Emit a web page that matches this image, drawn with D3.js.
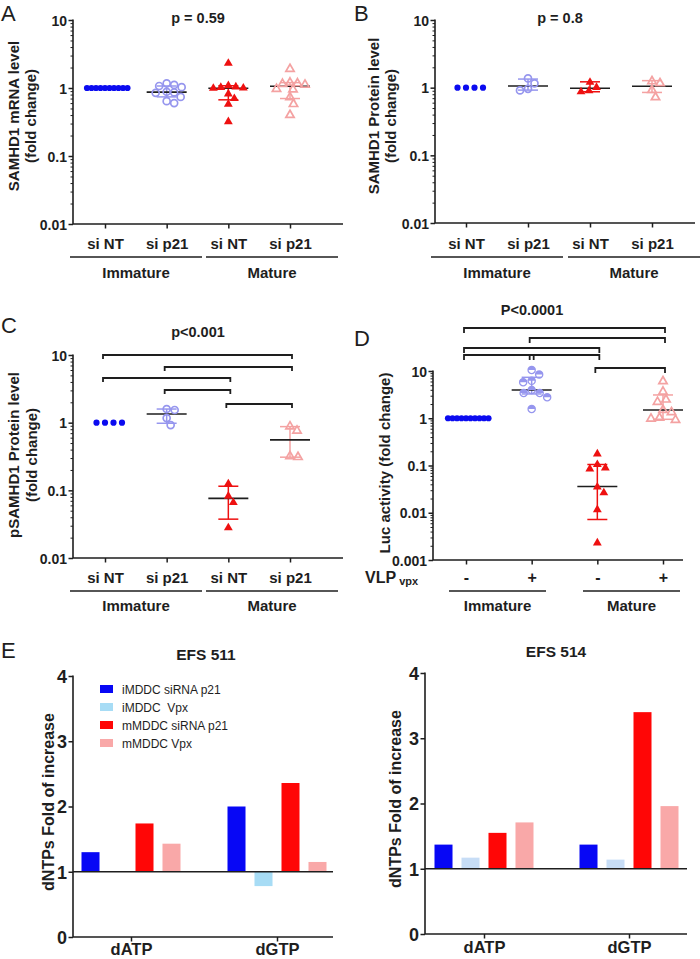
<!DOCTYPE html>
<html><head><meta charset="utf-8">
<script src="https://cdn.jsdelivr.net/npm/d3@7"></script>
<style>
body{margin:0;background:#fff}
svg{display:block}
text{font-family:"Liberation Sans",Arial,sans-serif}
</style>
</head><body>
<svg id="c" width="700" height="959"></svg>
<script>
// ---------------- DATA ----------------
const siCats = ["si NT", "si p21", "si NT", "si p21"];
const vlpCats = ["-", "+", "-", "+"];
const groupLabels = ["Immature", "Mature"];
const logTickA = [0.01, 0.1, 1, 10];
const logTickD = [0.001, 0.01, 0.1, 1, 10];

// Panel A: SAMHD1 mRNA level
const aImmNT = [1, 1, 1, 1, 1, 1, 1, 1, 1, 1];
const aImmP21 = [1.17, 1.11, 1.07, 1.03, 0.88, 0.86, 0.85, 0.74, 0.64, 0.60];
const aMatNT = [2.31, 1.08, 1.04, 1.02, 1.0, 0.99, 0.82, 0.70, 0.58, 0.32];
const aMatP21 = [1.90, 1.20, 1.17, 1.15, 1.12, 0.97, 0.95, 0.73, 0.58, 0.40];
const aCenter = [1, 0.87, 0.99, 1.06];
const aLow = [1, 0.74, 0.67, 0.70];
const aHigh = [1, 1.07, 1.08, 1.20];

// Panel B: SAMHD1 protein level
const bImmNT = [1, 1, 1, 1];
const bImmP21 = [1.37, 1.16, 0.96, 0.91];
const bMatNT = [1.20, 1.01, 0.90, 0.87];
const bMatP21 = [1.24, 1.16, 0.92, 0.72];
const bCenter = [1, 1.06, 0.98, 1.05];
const bLow = [1, 0.92, 0.87, 0.85];
const bHigh = [1, 1.34, 1.22, 1.27];

// Panel C: pSAMHD1 protein level
const cImmNT = [1, 1, 1, 1];
const cImmP21 = [1.59, 1.54, 1.17, 0.92];
const cMatNT = [0.125, 0.082, 0.066, 0.028];
const cMatP21 = [0.88, 0.76, 0.32, 0.31];
const cCenter = [1, 1.34, 0.076, 0.556];
const cLow = [1, 0.98, 0.0375, 0.309];
const cHigh = [1, 1.59, 0.115, 0.874];
const cPairs = [[0, 3], [1, 3], [0, 2], [1, 2], [2, 3]];

// Panel D: Luc activity
const dImmMinus = [1, 1, 1, 1, 1, 1, 1, 1, 1, 1];
const dImmPlus = [10.5, 8.4, 6.2, 5.8, 3.97, 3.43, 3.43, 2.78, 1.57];
const dMatMinus = [0.176, 0.105, 0.089, 0.085, 0.035, 0.0265, 0.0116, 0.0023];
const dMatPlus = [6.05, 3.66, 2.48, 2.21, 1.50, 1.34, 1.02, 0.98, 0.92];
const dCenter = [1, 3.97, 0.036, 1.5];
const dLow = [1, 3.27, 0.0072, 0.95];
const dHigh = [1, 7.35, 0.105, 3.11];
const dPairs = [[0, 3], [1, 3], [0, 2], [0, 1], [1, 2], [2, 3]];

// Panel E: dNTP fold of increase
const ntpCats = ["dATP", "dGTP"];
const legendLabels = ["iMDDC siRNA p21", "iMDDC  Vpx", "mMDDC siRNA p21", "mMDDC Vpx"];
const linTicks = [0, 1, 2, 3, 4];
const efs511_dATP = [1.30, 1.00, 1.74, 1.43];
const efs511_dGTP = [2.00, 0.78, 2.36, 1.15];
const efs514_dATP = [1.37, 1.17, 1.55, 1.71];
const efs514_dGTP = [1.37, 1.14, 3.40, 1.96];

// ---------------- STYLE ----------------
const INK = "#1e1e1e";
const BLUE = "#0b0bf0", PURPLE = "#9696ee", RED = "#ee1010", PINK = "#f4a2a2";
const barColors511 = ["#0707f5", "#a7dcf5", "#ff0606", "#f9a8a8"];
const barColors514 = ["#0707f5", "#c7ddf6", "#ff0606", "#f9a8a8"];
const LETTER_FONT = "'Liberation Sans', Arial, sans-serif";

const svg = d3.select("#c");

function drawMarker(sel, type, color) {
  if (type === "dot") {
    sel.append("circle").attr("r", 3.1).attr("fill", color);
  } else if (type === "circle") {
    sel.append("circle").attr("r", 3.5).attr("fill", "none").attr("stroke", color).attr("stroke-width", 1.7);
  } else if (type === "half") {
    sel.append("path").attr("d", "M-3.6,0A3.6,3.6 0 0 1 3.6,0Z").attr("fill", color);
    sel.append("circle").attr("r", 3.6).attr("fill", "none").attr("stroke", color).attr("stroke-width", 1.3);
  } else if (type === "tri") {
    sel.append("path").attr("d", d3.symbol().type(d3.symbolTriangle).size(34)()).attr("fill", color);
  } else if (type === "triOpen") {
    sel.append("path").attr("d", d3.symbol().type(d3.symbolTriangle).size(30)()).attr("fill", "none").attr("stroke", color).attr("stroke-width", 1.7);
  }
}

function swarm(vals, y, d) {
  const placed = [];
  return vals.map(v => {
    const py = y(v);
    for (let k = 0; k < 600; k++) {
      const off = (k % 2 === 1 ? 1 : -1) * Math.ceil(k / 2) * 0.5;
      if (placed.every(q => Math.hypot(q.off - off, q.y - py) >= d)) {
        const p = {v, y: py, off};
        placed.push(p);
        return p;
      }
    }
    return {v, y: py, off: 0};
  });
}

function scatterPanel(p) {
  const g = svg.append("g");
  const y = d3.scaleLog().domain([p.ticks[0], p.ticks[p.ticks.length - 1]]).range([p.yBot, p.yTop]);
  const x = d3.scalePoint().domain(d3.range(p.cats.length)).range(p.catRange);

  // minor log ticks
  const minors = [];
  p.ticks.slice(0, -1).forEach(t => { for (let m = 2; m < 10; m++) minors.push(t * m); });
  g.append("g").attr("transform", `translate(${p.axisX},0)`)
    .call(d3.axisLeft(y).tickValues(minors).tickSize(2.5).tickFormat(""))
    .call(s => { s.select(".domain").remove(); s.selectAll("line").attr("stroke", INK).attr("stroke-width", 1); });
  g.append("g").attr("transform", `translate(${p.axisX},0)`)
    .call(d3.axisLeft(y).tickValues(p.ticks).tickSize(4.5).tickPadding(1.5).tickFormat(d => String(d)))
    .call(s => {
      s.select(".domain").remove();
      s.selectAll("line").attr("stroke", INK).attr("stroke-width", 1.5);
      s.selectAll("text").attr("fill", INK).style("font-size", "14px").style("font-weight", "bold").attr("dy", "0.36em");
    });
  // x ticks + category labels
  g.append("g").attr("transform", `translate(0,${p.yBot})`)
    .call(d3.axisBottom(x).tickSize(4.5).tickFormat(i => p.cats[i]))
    .call(s => {
      s.select(".domain").remove();
      s.selectAll("line").attr("stroke", INK).attr("stroke-width", 1.5);
      s.selectAll("text").attr("fill", INK).style("font-size", p.catFont || "15px").style("font-weight", "bold")
        .attr("y", p.catLabelY - p.yBot).attr("dy", 0);
    });
  // axis lines
  g.append("path").attr("d", `M${p.axisX},${p.yTop - 0.5}V${p.yBot}H${p.axisEnd}`)
    .attr("fill", "none").attr("stroke", INK).attr("stroke-width", 1.6);

  // group underlines and labels
  p.groupLines.forEach((gl, i) => {
    g.append("line").attr("x1", gl[0]).attr("x2", gl[1]).attr("y1", p.groupLineY).attr("y2", p.groupLineY)
      .attr("stroke", INK).attr("stroke-width", 1.6);
    g.append("text").attr("x", (gl[0] + gl[1]) / 2).attr("y", p.groupLabelY).attr("text-anchor", "middle")
      .style("font-size", "15px").style("font-weight", "bold").attr("fill", INK).text(groupLabels[i]);
  });

  // error bars & central line (under markers)
  p.series.forEach((s, i) => {
    const cx = x(i);
    if (p.low[i] !== p.high[i]) {
      g.append("line").attr("x1", cx).attr("x2", cx).attr("y1", y(p.low[i])).attr("y2", y(p.high[i]))
        .attr("stroke", s.color).attr("stroke-width", 1.5);
      [p.low[i], p.high[i]].forEach(v => {
        g.append("line").attr("x1", cx - 10).attr("x2", cx + 10).attr("y1", y(v)).attr("y2", y(v))
          .attr("stroke", s.color).attr("stroke-width", 1.5);
      });
      g.append("line").attr("x1", cx - 20).attr("x2", cx + 20).attr("y1", y(p.center[i])).attr("y2", y(p.center[i]))
        .attr("stroke", INK).attr("stroke-width", 1.6);
    }
  });
  // markers
  p.series.forEach((s, i) => {
    const pts = swarm(s.vals, y, s.d);
    pts.forEach(pt => {
      const m = g.append("g").attr("transform", `translate(${x(i) + pt.off},${pt.y})`);
      drawMarker(m, s.type, s.color);
    });
  });

  // brackets
  if (p.pairs) {
    p.pairs.forEach((pr, k) => {
      const by = p.bracketY[k];
      const x0 = x(pr[0]) - 2, x1 = x(pr[1]) + 2;
      g.append("path").attr("d", `M${x0},${by + p.leg}V${by}H${x1}V${by + p.leg}`)
        .attr("fill", "none").attr("stroke", INK).attr("stroke-width", 1.8);
    });
  }

  // p-value
  g.append("text").attr("x", p.pX).attr("y", p.pY).attr("text-anchor", "middle")
    .style("font-size", "14.5px").style("font-weight", "bold").attr("fill", INK).text(p.pText);

  // y-axis title
  p.yLabel.forEach((line, k) => {
    g.append("text").attr("transform", `translate(${p.yLabelX[k]},${p.yLabelCY}) rotate(-90)`)
      .attr("text-anchor", "middle").style("font-size", "15px").style("font-weight", "bold").attr("fill", INK).text(line);
  });

  // panel letter
  g.append("text").attr("x", p.letterX).attr("y", p.letterY)
    .style("font-family", LETTER_FONT).style("font-size", "22px").attr("fill", INK).text(p.letter);
  return {g, x, y};
}

// Panel A
scatterPanel({
  letter: "A", letterX: 1, letterY: 21,
  ticks: logTickA, axisX: 73, yTop: 20, yBot: 224, axisEnd: 343, catRange: [105, 290], cats: siCats,
  catLabelY: 249, groupLineY: 257, groupLines: [[70, 202], [206, 338]], groupLabelY: 278,
  series: [
    {vals: aImmNT, type: "dot", color: BLUE, d: 4.3},
    {vals: aImmP21, type: "circle", color: PURPLE, d: 7.5},
    {vals: aMatNT, type: "tri", color: RED, d: 7.5},
    {vals: aMatP21, type: "triOpen", color: PINK, d: 7.5}
  ],
  center: aCenter, low: aLow, high: aHigh,
  pText: "p = 0.59", pX: 198, pY: 23,
  yLabel: ["SAMHD1 mRNA level", "(fold change)"], yLabelX: [19, 36], yLabelCY: 116
});

// Panel B
scatterPanel({
  letter: "B", letterX: 354, letterY: 21,
  ticks: logTickA, axisX: 435, yTop: 20, yBot: 223, axisEnd: 695, catRange: [466, 652], cats: siCats,
  catLabelY: 249, groupLineY: 257, groupLines: [[431, 563], [568, 700]], groupLabelY: 278,
  series: [
    {vals: bImmNT, type: "dot", color: BLUE, d: 8.5},
    {vals: bImmP21, type: "circle", color: PURPLE, d: 8},
    {vals: bMatNT, type: "tri", color: RED, d: 8},
    {vals: bMatP21, type: "triOpen", color: PINK, d: 8}
  ],
  center: bCenter, low: bLow, high: bHigh,
  pText: "p = 0.8", pX: 560, pY: 23,
  yLabel: ["SAMHD1 Protein level", "(fold change)"], yLabelX: [379, 396], yLabelCY: 116
});

// Panel C
scatterPanel({
  letter: "C", letterX: 1, letterY: 333,
  ticks: logTickA, axisX: 73, yTop: 355, yBot: 558, axisEnd: 343, catRange: [105, 290], cats: siCats,
  catLabelY: 583, groupLineY: 591, groupLines: [[70, 202], [206, 338]], groupLabelY: 611,
  series: [
    {vals: cImmNT, type: "dot", color: BLUE, d: 8.5},
    {vals: cImmP21, type: "circle", color: PURPLE, d: 8},
    {vals: cMatNT, type: "tri", color: RED, d: 8},
    {vals: cMatP21, type: "triOpen", color: PINK, d: 8}
  ],
  center: cCenter, low: cLow, high: cHigh,
  pairs: cPairs, bracketY: [355, 367, 378, 390, 404], leg: 4,
  pText: "p<0.001", pX: 198, pY: 337,
  yLabel: ["pSAMHD1 Protein level", "(fold change)"], yLabelX: [19, 37], yLabelCY: 455
});

// Panel D
scatterPanel({
  letter: "D", letterX: 354, letterY: 346,
  ticks: logTickD, axisX: 433, yTop: 371, yBot: 560, axisEnd: 683, catRange: [466, 663], cats: vlpCats,
  catFont: "16px",
  catLabelY: 583, groupLineY: 591, groupLines: [[449, 546], [583, 680]], groupLabelY: 611,
  series: [
    {vals: dImmMinus, type: "dot", color: BLUE, d: 4.3},
    {vals: dImmPlus, type: "half", color: PURPLE, d: 8.5},
    {vals: dMatMinus, type: "tri", color: RED, d: 8.5},
    {vals: dMatPlus, type: "triOpen", color: PINK, d: 8.5}
  ],
  center: dCenter, low: dLow, high: dHigh,
  pairs: dPairs, bracketY: [328, 338, 348, 355, 355, 368], leg: 5,
  pText: "P<0.0001", pX: 532, pY: 315,
  yLabel: ["Luc activity (fold change)"], yLabelX: [390], yLabelCY: 463
});
// VLP vpx row label
const vlp = svg.append("text").attr("x", 365).attr("y", 583).attr("fill", INK)
  .style("font-size", "16px").style("font-weight", "bold");
vlp.append("tspan").text("VLP");
vlp.append("tspan").attr("dx", 3).attr("dy", 2).style("font-size", "11px").text("vpx");

// Panel E (bars)
function barPanel(p) {
  const g = svg.append("g");
  const y = d3.scaleLinear().domain([0, 4]).range([p.yBot, p.yTop]);
  const x0 = d3.scalePoint().domain(ntpCats).range(p.catRange);
  const x1 = d3.scaleBand().domain(d3.range(4)).range([-49.5, 49.5]).paddingInner(0.333);

  [p.dATP, p.dGTP].forEach((vals, ci) => {
    vals.forEach((v, si) => {
      const bx = x0(ntpCats[ci]) + x1(si);
      g.append("rect").attr("x", bx).attr("width", x1.bandwidth())
        .attr("y", Math.min(y(v), y(1))).attr("height", Math.max(Math.abs(y(v) - y(1)), 0.01))
        .attr("fill", p.colors[si]);
    });
  });
  // baseline at 1
  g.append("line").attr("x1", p.axisX).attr("x2", p.axisEnd).attr("y1", y(1)).attr("y2", y(1))
    .attr("stroke", INK).attr("stroke-width", 1.6);

  g.append("g").attr("transform", `translate(${p.axisX},0)`)
    .call(d3.axisLeft(y).tickValues(linTicks).tickSize(4.5).tickPadding(1.5).tickFormat(d3.format("d")))
    .call(s => {
      s.select(".domain").remove();
      s.selectAll("line").attr("stroke", INK).attr("stroke-width", 1.5);
      s.selectAll("text").attr("fill", INK).style("font-size", "18px").style("font-weight", "bold").attr("dy", "0.36em");
    });
  g.append("g").attr("transform", `translate(0,${p.yBot})`)
    .call(d3.axisBottom(x0).tickSize(4.5))
    .call(s => {
      s.select(".domain").remove();
      s.selectAll("line").attr("stroke", INK).attr("stroke-width", 1.5);
      s.selectAll("text").attr("fill", INK).style("font-size", "16.5px").style("font-weight", "bold")
        .attr("y", p.catLabelY - p.yBot).attr("dy", 0);
    });
  g.append("path").attr("d", `M${p.axisX},${p.yTop - 0.5}V${p.yBot}H${p.axisEnd}`)
    .attr("fill", "none").attr("stroke", INK).attr("stroke-width", 1.6);

  g.append("text").attr("x", p.titleX).attr("y", p.titleY).attr("text-anchor", "middle")
    .style("font-size", "15.5px").style("font-weight", "bold").attr("fill", INK).text(p.title);
  g.append("text").attr("transform", `translate(${p.yLabelX},${p.yLabelCY}) rotate(-90)`)
    .attr("text-anchor", "middle").style("font-size", "16px").style("font-weight", "bold").attr("fill", INK)
    .text("dNTPs Fold of increase");

  if (p.legend) {
    legendLabels.forEach((lab, i) => {
      const ly = p.legendY + i * 18;
      g.append("rect").attr("x", p.legendX).attr("y", ly - 4).attr("width", 13).attr("height", 8).attr("fill", p.colors[i]);
      g.append("text").attr("x", p.legendX + 22).attr("y", ly + 4.5).attr("fill", INK)
        .style("font-size", "12px").style("white-space", "pre").text(lab);
    });
  }
}

barPanel({
  title: "EFS 511", titleX: 206, titleY: 660,
  axisX: 73, yTop: 676, yBot: 937, axisEnd: 333, catRange: [131, 277], catLabelY: 955,
  dATP: efs511_dATP, dGTP: efs511_dGTP, colors: barColors511,
  yLabelX: 54, yLabelCY: 802, legend: true, legendX: 100, legendY: 689
});
barPanel({
  title: "EFS 514", titleX: 556, titleY: 657,
  axisX: 425, yTop: 673, yBot: 934, axisEnd: 687, catRange: [484, 629], catLabelY: 953,
  dATP: efs514_dATP, dGTP: efs514_dGTP, colors: barColors514,
  yLabelX: 401, yLabelCY: 799, legend: false
});
svg.append("text").attr("x", 1).attr("y", 658)
  .style("font-family", LETTER_FONT).style("font-size", "22px").attr("fill", INK).text("E");
</script>
</body></html>
